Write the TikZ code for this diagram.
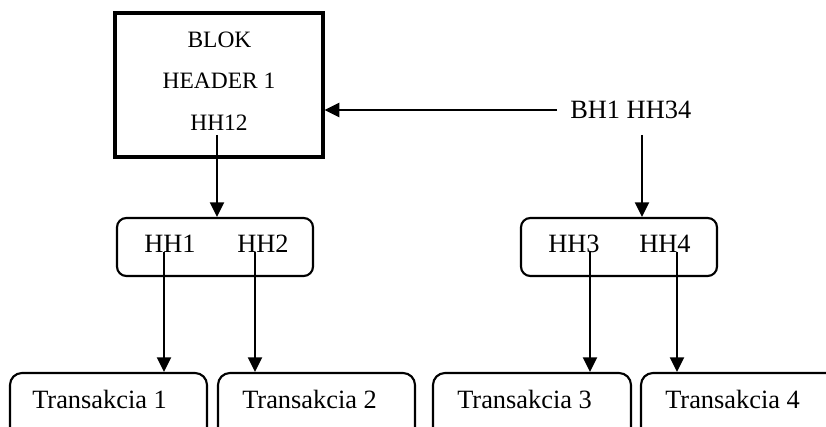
\documentclass[tikz,border=0pt]{standalone}
\usepackage{fontspec}
\setmainfont{Liberation Serif}
\usetikzlibrary{arrows.meta}
\begin{document}
\begin{tikzpicture}[x=0.75pt,y=-0.75pt,
  thickbox/.style={draw,line width=2.4pt,inner sep=0pt},
  rbox/.style={draw,line width=1.6pt,rounded corners=7pt,inner sep=0pt},
  conn/.style={line width=1.6pt,-{Triangle[length=11pt,width=10.5pt]}},
  hdr/.style={font=\fontsize{17.6}{20}\selectfont,anchor=base,inner sep=0pt},
  lbl/.style={font=\fontsize{19.8}{22}\selectfont,anchor=base west,inner sep=0pt}]
\useasboundingbox (0,0) rectangle (826,427);
\clip (0,0) rectangle (826,427);
% main block
\node[thickbox,minimum width=208*0.75pt,minimum height=144*0.75pt] (blok) at (219,85) {};
\node[hdr] (t1) at (219.5,48) {BLOK};
\node[hdr] (t2) at (219,89) {HEADER 1};
\node[hdr] (t3) at (219,131) {HH12};
% top-right label
\node[lbl] (bh) at (570,119) {BH1 HH34};
% middle boxes
\node[rbox,minimum width=196*0.75pt,minimum height=58*0.75pt] (hl) at (215,247) {};
\node[lbl] (hh1) at (144,253) {HH1};
\node[lbl] (hh2) at (237,253) {HH2};
\node[rbox,minimum width=196*0.75pt,minimum height=58*0.75pt] (hr) at (619,247) {};
\node[lbl] (hh3) at (548,253) {HH3};
\node[lbl] (hh4) at (639,253) {HH4};
% bottom boxes
\node[rbox,rounded corners=9pt,minimum width=197*0.75pt,minimum height=100*0.75pt] (b1) at (108.5,423) {};
\node[rbox,rounded corners=9pt,minimum width=197*0.75pt,minimum height=100*0.75pt] (b2) at (316.5,423) {};
\node[rbox,rounded corners=9pt,minimum width=198*0.75pt,minimum height=100*0.75pt] (b3) at (532,423) {};
\node[rbox,rounded corners=9pt,minimum width=198*0.75pt,minimum height=100*0.75pt] (b4) at (740,423) {};
\node[lbl] (tr1) at (32,409) {Transakcia 1};
\node[lbl] (tr2) at (242,409) {Transakcia 2};
\node[lbl] (tr3) at (457,409) {Transakcia 3};
\node[lbl] (tr4) at (665,409) {Transakcia 4};
% connector start points
\coordinate (s12) at (217,135);
\coordinate (sbh) at (557,110);
\coordinate (sbv) at (642,135);
\coordinate (s1) at (164,252);
\coordinate (s2) at (255,252);
\coordinate (s3) at (590,252);
\coordinate (s4) at (677,252);
\draw[conn] (sbh) -- (blok.east |- sbh);
\draw[conn] (s12) -- (s12 |- hl.north);
\draw[conn] (sbv) -- (sbv |- hr.north);
\draw[conn] (s1) -- (s1 |- b1.north);
\draw[conn] (s2) -- (s2 |- b2.north);
\draw[conn] (s3) -- (s3 |- b3.north);
\draw[conn] (s4) -- (s4 |- b4.north);
\end{tikzpicture}
\end{document}
